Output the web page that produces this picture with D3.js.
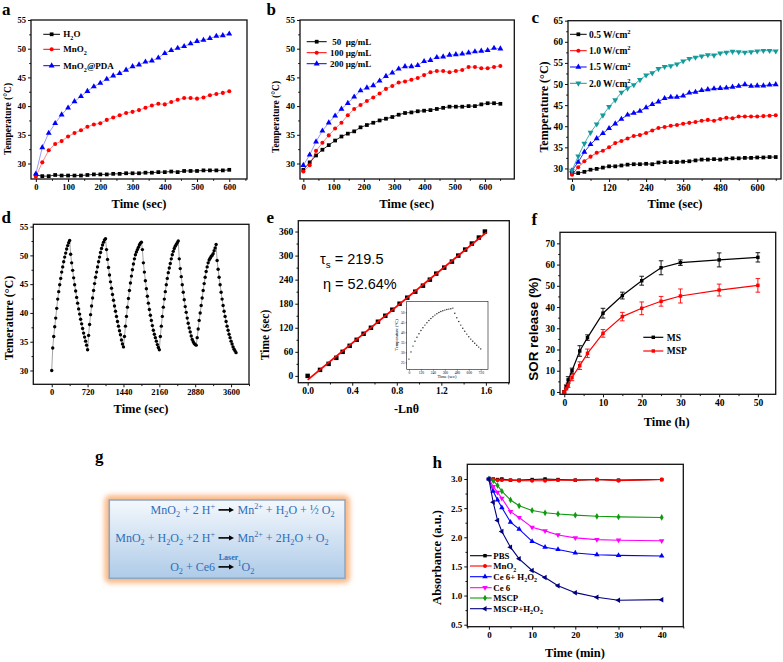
<!DOCTYPE html>
<html>
<head>
<meta charset="utf-8">
<script src="https://cdn.jsdelivr.net/npm/d3@7"></script>
<style>
  body { margin: 0; background: #fff; }
  svg { display: block; }
</style>
</head>
<body>
<div id="chart"></div>
<script>
// ---------- Datos del panel a ----------
const aTime = d3.range(0, 601, 20);
const aH2O = [28.0, 27.8, 27.8, 28.0, 27.9, 27.9, 27.9, 27.9, 28.0, 28.1, 28.1, 28.1, 28.2, 28.2, 28.3, 28.3,
  28.3, 28.4, 28.4, 28.5, 28.5, 28.6, 28.5, 28.7, 28.7, 28.7, 28.8, 28.8, 28.8, 28.8, 28.9];
const aMnO2 = [27.7, 30.2, 32.3, 33.4, 33.9, 34.7, 35.3, 35.8, 36.4, 36.8, 37.0, 37.6, 38.0, 38.4, 38.8, 39.0,
  39.3, 39.7, 40.1, 40.4, 40.3, 40.7, 41.1, 41.4, 41.4, 41.3, 41.5, 41.9, 42.1, 42.3, 42.6];
const aPDA = [28.2, 32.8, 35.3, 37.0, 38.5, 39.7, 40.8, 41.7, 42.6, 43.4, 44.0, 44.7, 45.3, 45.7, 46.3, 46.9,
  47.2, 47.7, 47.9, 48.4, 49.2, 49.7, 50.1, 50.4, 50.9, 51.3, 51.5, 51.8, 52.2, 52.3, 52.6];
const aNames = ["H_{2}O", "MnO_{2}", "MnO_{2}@PDA"];

// ---------- Datos del panel b ----------
const bTime = d3.range(0, 652, 21);
const b50 = [28.9, 30.2, 31.4, 32.4, 33.2, 34.0, 34.7, 35.2, 35.6, 36.3, 36.7, 37.1, 37.5, 37.8, 38.1, 38.5,
  38.8, 38.9, 39.1, 39.2, 39.3, 39.5, 39.7, 39.9, 39.9, 39.9, 40.0, 40.0, 40.3, 40.5, 40.5, 40.4];
const b100 = [28.6, 29.7, 32.2, 33.6, 34.9, 36.1, 37.1, 38.4, 39.5, 40.2, 40.9, 41.5, 42.2, 43.0, 43.5, 44.1,
  44.3, 44.6, 44.9, 45.4, 45.9, 46.1, 46.1, 45.9, 46.1, 46.3, 46.8, 46.8, 46.6, 46.6, 46.8, 47.0];
const b200 = [29.7, 31.5, 33.8, 35.7, 37.1, 38.3, 39.5, 40.5, 41.6, 42.7, 43.2, 43.6, 44.4, 45.2, 45.8, 46.5,
  46.9, 46.9, 47.1, 47.8, 48.0, 48.5, 48.6, 48.9, 49.0, 49.1, 49.3, 49.5, 49.6, 49.7, 50.1, 50.0];
const bNames = ["\u00a050\u00a0\u00a0μg/mL", "100 μg/mL", "200 μg/mL"];

// ---------- Datos del panel c ----------
const cTime = d3.range(0, 661, 20);
const c05 = [28.8, 28.9, 29.2, 29.7, 29.9, 30.2, 30.5, 30.5, 30.7, 30.9, 31.0, 31.0, 31.1, 31.0, 31.4, 31.5, 31.5,
  31.5, 31.6, 31.7, 31.9, 32.1, 32.1, 32.2, 32.1, 32.3, 32.4, 32.4, 32.5, 32.5, 32.6, 32.6, 32.7, 32.7];
const c10 = [28.5, 30.3, 31.7, 32.8, 33.7, 34.2, 35.0, 36.0, 36.5, 37.1, 37.7, 37.9, 38.4, 39.0, 39.6, 39.8, 40.1,
  40.3, 40.6, 40.8, 41.0, 41.3, 41.5, 41.3, 41.7, 42.0, 41.9, 42.3, 42.3, 42.3, 42.3, 42.4, 42.5, 42.6];
const c15 = [29.5, 31.5, 33.9, 35.7, 37.1, 38.3, 39.5, 40.6, 41.7, 42.7, 43.1, 43.6, 44.4, 45.2, 45.8, 46.6, 46.9,
  46.9, 47.2, 47.9, 48.1, 48.5, 48.7, 48.9, 49.0, 49.1, 49.3, 49.5, 49.9, 49.5, 49.6, 49.6, 49.8, 49.9];
const c20 = [29.5, 32.9, 35.9, 38.5, 40.5, 42.6, 44.6, 46.2, 48.0, 49.0, 49.8, 51.0, 52.1, 52.6, 53.6, 54.1, 54.3,
  54.7, 55.4, 56.0, 56.3, 56.6, 56.9, 56.8, 57.3, 57.5, 57.7, 57.6, 57.5, 57.6, 57.8, 57.9, 57.9, 57.8];
const cNames = ["0.5 W/cm^{2}", "1.0 W/cm^{2}", "1.5 W/cm^{2}", "2.0 W/cm^{2}"];

// ---------- Datos del panel d (ciclos on/off, una medida cada 20 s) ----------
const dStep = 20;
const dTemp = [
  30.0, 33.9, 35.9, 37.6, 39.1, 40.8, 42.4, 43.7, 44.9, 46.0, 47.1, 48.0, 48.9, 49.7, 50.4, 51.1, 51.7, 52.2, 52.6,
  50.2, 48.7, 47.4, 46.1, 44.9, 43.8, 42.7, 41.7, 40.7, 39.8, 38.9, 38.1, 37.3, 36.5, 35.8, 35.1, 34.4, 33.6,
  36.1, 38.0, 39.7, 41.2, 42.6, 43.9, 45.1, 46.2, 47.1, 48.0, 48.9, 49.7, 50.5, 51.2, 51.8, 52.3, 52.7, 52.9,
  51.0, 49.3, 47.9, 46.6, 45.4, 44.3, 43.2, 42.2, 41.2, 40.3, 39.4, 38.5, 37.7, 36.9, 36.2, 35.3, 34.6, 34.1,
  35.9, 37.7, 39.4, 41.0, 42.5, 43.9, 45.2, 46.4, 47.5, 48.5, 49.4, 50.1, 50.6, 51.0, 51.4, 51.8, 52.1, 52.3,
  51.0, 48.7, 47.1, 45.6, 44.2, 42.9, 41.7, 40.6, 39.6, 38.7, 37.8, 37.0, 36.3, 35.7, 35.1, 34.5, 34.0, 33.6,
  35.9, 37.7, 39.4, 41.0, 42.4, 43.7, 44.9, 46.0, 47.0, 47.8, 48.6, 49.4, 50.1, 50.7, 51.2, 51.6, 51.9, 52.2, 52.5,
  49.4, 47.7, 46.3, 44.9, 43.6, 42.3, 41.1, 40.1, 39.1, 38.2, 37.4, 36.7, 36.0, 35.4, 35.0, 34.7, 34.5, 34.4,
  35.7, 37.2, 38.7, 40.0, 41.3, 42.6, 43.9, 45.1, 46.2, 47.2, 48.0, 48.7, 49.2, 49.5, 49.8, 50.0, 50.3, 50.8, 51.3, 51.9,
  49.1, 47.6, 46.2, 44.9, 43.6, 42.4, 41.3, 40.3, 39.4, 38.5, 37.7, 37.0, 36.3, 35.7, 35.1, 34.6, 34.1, 33.7, 33.4, 33.1
];
const dTime = dTemp.map((_, i) => i * dStep);

// ---------- Datos del panel e ----------
const eLnTheta = [0, 0.111, 0.188, 0.257, 0.314, 0.377, 0.44, 0.502, 0.568, 0.631, 0.697, 0.76, 0.825,
  0.894, 0.966, 1.035, 1.097, 1.154, 1.226, 1.295, 1.352, 1.414, 1.474, 1.537, 1.591];
const eTime = d3.range(0, 361, 15);
const eFitX = [0, 1.605];
const eFitY = [-10, 358];
const eInsetTime = d3.range(0, 721, 20);
const eInsetTemp = [26.6, 30.2, 33.1, 35.5, 37.5, 39.3, 40.9, 42.3, 43.6, 44.8, 45.9, 46.9, 47.8, 48.6, 49.3, 49.9,
  50.4, 50.8, 51.1, 51.4, 51.6, 51.8, 52.1, 49.5, 47.3, 45.4, 43.6, 42.0, 40.5, 39.1, 37.8, 36.6, 35.5, 34.5,
  33.5, 32.6, 31.7];

// ---------- Datos del panel f ----------
const fTime = [0, 0.5, 1, 2, 4, 6, 10, 15, 20, 25, 30, 40, 50];
const fMS = [0, 2.5, 5.7, 10.0, 19.3, 25.6, 37.1, 45.4, 52.4, 58.5, 60.9, 62.2, 63.4];
const fMSerr = [0.5, 0.8, 1.5, 1.2, 2.5, 1.3, 2.3, 1.6, 2.1, 3.3, 1.3, 3.3, 2.2];
const fMSP = [0, 1.6, 3.1, 6.8, 12.4, 18.2, 27.6, 35.5, 39.4, 42.7, 45.2, 48.0, 50.2];
const fMSPerr = [0.5, 0.6, 1.0, 1.5, 1.8, 2.0, 1.8, 2.0, 3.0, 2.3, 3.3, 2.8, 3.2];
const fNames = ["MS", "MSP"];

// ---------- Datos del panel g ----------
const gEqLeft = ["MnO_{2} + 2 H^{+}", "MnO_{2} + H_{2}O_{2} +2 H^{+}", "O_{2} + Ce6"];
const gEqRight = ["Mn^{2+} + H_{2}O + ½ O_{2}", "Mn^{2+} + 2H_{2}O + O_{2}", "^{1}O_{2}"];
const gArrowNote = ["", "", "Laser"];

// ---------- Datos del panel h ----------
const hTime = [0, 1, 2, 3, 5, 7, 10, 13, 16, 20, 25, 30, 40];
const hPBS = [3.0, 3.0, 2.99, 3.0, 2.98, 2.98, 2.99, 3.0, 2.99, 2.98, 2.99, 2.98, 2.99];
const hMnO2 = [3.0, 2.99, 2.98, 2.98, 2.98, 2.97, 2.97, 2.97, 2.98, 2.98, 2.99, 2.97, 2.99];
const hCeH2O2 = [3.0, 2.79, 2.64, 2.51, 2.26, 2.14, 1.93, 1.83, 1.79, 1.73, 1.70, 1.69, 1.68];
const hCe6 = [3.0, 2.87, 2.77, 2.67, 2.44, 2.34, 2.17, 2.11, 2.04, 1.99, 1.96, 1.95, 1.94];
const hMSCP = [3.0, 2.97, 2.89, 2.79, 2.64, 2.54, 2.46, 2.42, 2.40, 2.38, 2.36, 2.35, 2.34];
const hMSCPH2O2 = [3.0, 2.6, 2.29, 2.1, 1.83, 1.63, 1.43, 1.31, 1.17, 1.05, 0.97, 0.92, 0.93];
const hNames = ["PBS", "MnO_{2}", "Ce 6+ H_{2}O_{2}", "Ce 6", "MSCP", "MSCP+H_{2}O_{2}"];

// ---------- Configuración general ----------
const SERIF = "'Liberation Serif', 'Times New Roman', serif";
const SANS = "'Liberation Sans', Arial, sans-serif";

const svg = d3.select("#chart").append("svg")
  .attr("width", 783)
  .attr("height", 662)
  .style("background", "#fff");

const defs = svg.append("defs");

// Texto con subíndices "_{..}" y superíndices "^{..}"
function richText(sel, str, fs) {
  const parts = str.split(/([_^]\{[^}]*\})/).filter(p => p !== "");
  let shift = 0;
  parts.forEach(p => {
    let target = 0, txt = p, small = false;
    if (p[0] === "_") { target = fs * 0.3; txt = p.slice(2, -1); small = true; }
    else if (p[0] === "^") { target = -fs * 0.4; txt = p.slice(2, -1); small = true; }
    const t = sel.append("tspan").text(txt);
    if (target - shift !== 0) t.attr("dy", target - shift);
    if (small) t.attr("font-size", fs * 0.68);
    shift = target;
  });
  return sel;
}

// Crea un panel con marco, ticks y escalas
function makePanel(p) {
  const [x0, y0, x1, y1] = p.box;
  const x = d3.scaleLinear().domain(p.xDomain).range([x0, x1]);
  const y = d3.scaleLinear().domain(p.yDomain).range([y1, y0]);
  const g = svg.append("g");
  if (p.background) {
    g.append("rect").attr("x", x0).attr("y", y0).attr("width", x1 - x0).attr("height", y1 - y0)
      .attr("fill", p.background);
  }
  const tl = p.tickLen ?? 3;
  const pad = p.pad ?? 2;
  const axes = [];
  axes.push(g.append("g").attr("transform", `translate(0,${y1})`)
    .call(d3.axisBottom(x).tickValues(p.xTicks).tickSize(tl).tickPadding(pad).tickFormat(p.xFormat || d3.format("d"))));
  axes.push(g.append("g").attr("transform", `translate(0,${y1})`)
    .call(d3.axisBottom(x).tickValues(p.xMinor || []).tickSize(tl * 0.6).tickFormat("")));
  axes.push(g.append("g").attr("transform", `translate(${x0},0)`)
    .call(d3.axisLeft(y).tickValues(p.yTicks).tickSize(tl).tickPadding(pad).tickFormat(p.yFormat || d3.format("d"))));
  axes.push(g.append("g").attr("transform", `translate(${x0},0)`)
    .call(d3.axisLeft(y).tickValues(p.yMinor || []).tickSize(tl * 0.6).tickFormat("")));
  axes.forEach(a => {
    a.select(".domain").remove();
    a.selectAll("line").attr("stroke", "#111").attr("stroke-width", p.tickW ?? 1);
    a.attr("font-family", p.tickFamily || SERIF)
      .attr("font-size", p.tickFont ?? 9)
      .attr("font-weight", "bold");
    a.selectAll("text").attr("fill", "#000");
  });
  g.append("rect").attr("x", x0).attr("y", y0).attr("width", x1 - x0).attr("height", y1 - y0)
    .attr("fill", "none").attr("stroke", "#111").attr("stroke-width", p.frameW ?? 1.3);
  return { g, x, y };
}

// Marcadores con d3.symbol
function drawMarkers(g, pts, s) {
  const sym = d3.symbol().type(s.shape).size(s.size);
  g.selectAll(null).data(pts).enter().append("path")
    .attr("d", sym)
    .attr("transform", d => `translate(${d[0]},${d[1]}) rotate(${s.rotate || 0})`)
    .attr("fill", s.color);
}

// Serie: línea + marcadores
function drawSeries(panel, xs, ys, s) {
  const pts = xs.map((v, i) => [panel.x(v), panel.y(ys[i])]);
  panel.g.append("path")
    .attr("d", d3.line()(pts))
    .attr("fill", "none")
    .attr("stroke", s.lineColor || s.color)
    .attr("stroke-width", s.lineWidth ?? 0.8)
    .attr("stroke-opacity", s.lineOpacity ?? 1);
  if (s.shape) drawMarkers(panel.g, pts, s);
}

// Barras de error
function drawErrorBars(panel, xs, ys, es, color) {
  xs.forEach((v, i) => {
    const cx = panel.x(v), top = panel.y(ys[i] + es[i]), bot = panel.y(ys[i] - es[i]);
    panel.g.append("path")
      .attr("d", `M${cx},${top}V${bot}M${cx - 2.3},${top}H${cx + 2.3}M${cx - 2.3},${bot}H${cx + 2.3}`)
      .attr("stroke", color).attr("stroke-width", 0.9).attr("fill", "none");
  });
}

// Leyenda: línea, marcador y texto
function drawLegend(g, names, styles, o) {
  names.forEach((name, i) => {
    const yy = o.ys[i];
    const s = styles[i];
    g.append("line").attr("x1", o.lx0).attr("x2", o.lx1).attr("y1", yy).attr("y2", yy)
      .attr("stroke", s.lineColor || s.color).attr("stroke-width", o.lw ?? 1);
    drawMarkers(g, [[o.mx ?? (o.lx0 + o.lx1) / 2, yy]], s);
    const t = g.append("text")
      .attr("x", o.tx).attr("y", yy + o.fs * 0.35)
      .attr("font-family", SERIF).attr("font-weight", "bold").attr("font-size", o.fs)
      .style("white-space", "pre");
    richText(t, name, o.fs);
  });
}

// Título de eje
function axisTitle(txt, cx, cy, fs, rotate, family) {
  const t = svg.append("text")
    .attr("text-anchor", "middle")
    .attr("font-family", family || SERIF)
    .attr("font-weight", "bold")
    .attr("font-size", fs)
    .attr("fill", "#000");
  if (rotate) {
    t.attr("transform", `translate(${cx},${cy}) rotate(-90)`).attr("x", 0).attr("y", fs * 0.35);
  } else {
    t.attr("x", cx).attr("y", cy);
  }
  richText(t, txt, fs);
  return t;
}

// Letra del panel
function panelLetter(l, x, y) {
  svg.append("text").attr("x", x).attr("y", y)
    .attr("font-family", SERIF).attr("font-weight", "bold").attr("font-size", 17)
    .text(l);
}

const SQ = d3.symbolSquare, CI = d3.symbolCircle, TR = d3.symbolTriangle, DI = d3.symbolDiamond;

// ================= Panel a =================
const pa = makePanel({
  box: [31, 20, 247, 179], xDomain: [-15, 655], yDomain: [27.3, 55],
  xTicks: d3.range(0, 601, 100), xMinor: d3.range(50, 651, 100),
  yTicks: d3.range(30, 56, 5), yMinor: d3.range(32.5, 55, 5), tickFont: 8.5
});
const aStyles = [
  { color: "#000", shape: SQ, size: 14 },
  { color: "#ff0000", shape: CI, size: 13, lineOpacity: 0.6 },
  { color: "#0000ff", shape: TR, size: 15, lineOpacity: 0.5 }
];
[aH2O, aMnO2, aPDA].forEach((ys, i) => drawSeries(pa, aTime, ys, aStyles[i]));
drawLegend(pa.g, aNames, aStyles, { ys: [34.3, 49.3, 65.7], lx0: 43.3, lx1: 60, tx: 63.3, fs: 9 });
panelLetter("a", 2, 15);
axisTitle("Time (sec)", 139, 207.5, 12.5);
axisTitle("Temperature (°C)", 8, 119, 9.5, true);

// ================= Panel b =================
const pb = makePanel({
  box: [300, 20, 514.3, 179], xDomain: [-11, 697], yDomain: [27.3, 55],
  xTicks: d3.range(0, 601, 100), xMinor: d3.range(50, 651, 100),
  yTicks: d3.range(30, 56, 5), yMinor: d3.range(32.5, 55, 5), tickFont: 9
});
const bStyles = [
  { color: "#000", shape: SQ, size: 14 },
  { color: "#ff0000", shape: CI, size: 13, lineOpacity: 0.6 },
  { color: "#0000ff", shape: TR, size: 15, lineOpacity: 0.5 }
];
[b50, b100, b200].forEach((ys, i) => drawSeries(pb, bTime, ys, bStyles[i]));
drawLegend(pb.g, bNames, bStyles, { ys: [41.7, 52.7, 63.7], lx0: 306.7, lx1: 326.7, tx: 330, fs: 9 });
panelLetter("b", 266.5, 15);
axisTitle("Time (sec)", 406.7, 207.5, 12.5);
axisTitle("Temperature (°C)", 276, 117, 9.5, true);

// ================= Panel c =================
const pc = makePanel({
  box: [568, 20.7, 781, 179], xDomain: [-13, 677], yDomain: [27.5, 65],
  xTicks: d3.range(0, 601, 120), xMinor: d3.range(60, 661, 120),
  yTicks: d3.range(30, 66, 5), yMinor: d3.range(32.5, 65, 5), tickFont: 9.5
});
const cStyles = [
  { color: "#000", shape: SQ, size: 14 },
  { color: "#ff0000", shape: CI, size: 13 },
  { color: "#0000ff", shape: TR, size: 15 },
  { color: "#139a9a", shape: TR, size: 15, rotate: 180 }
];
[c05, c10, c15, c20].forEach((ys, i) => drawSeries(pc, cTime, ys, cStyles[i]));
drawLegend(pc.g, cNames, cStyles, { ys: [34.3, 50.7, 67, 83.3], lx0: 570, lx1: 586.7, tx: 589, fs: 9.5 });
panelLetter("c", 531.5, 22.5);
axisTitle("Time (sec)", 675, 208, 12.5);
axisTitle("Temperature (°C)", 543.3, 107, 12, true);

// ================= Panel d =================
const pd = makePanel({
  box: [33.3, 224.3, 249, 384.3], xDomain: [-370, 3960], yDomain: [27.6, 55.4],
  xTicks: d3.range(0, 3601, 720), xMinor: d3.range(360, 3961, 720),
  yTicks: d3.range(30, 56, 5), yMinor: d3.range(32.5, 55, 5), tickFont: 8.5
});
drawSeries(pd, dTime, dTemp, { color: "#000", shape: CI, size: 9, lineColor: "#666", lineWidth: 0.6 });
panelLetter("d", 1.5, 223);
axisTitle("Time (sec)", 141, 413, 12.5);
axisTitle("Temerature (°C)", 8.3, 318, 12, true);

// ================= Panel e =================
const pe = makePanel({
  box: [298.3, 220.7, 509.3, 382.7], xDomain: [-0.084, 1.81], yDomain: [-17, 387],
  xTicks: d3.range(0, 1.61, 0.4), xMinor: d3.range(0.2, 1.81, 0.4), xFormat: d3.format(".1f"),
  yTicks: d3.range(0, 361, 60), yMinor: d3.range(30, 387, 60), tickFont: 9.5
});
drawMarkers(pe.g, eLnTheta.map((v, i) => [pe.x(v), pe.y(eTime[i])]), { color: "#000", shape: SQ, size: 20 });
pe.g.append("path")
  .attr("d", d3.line()(eFitX.map((v, i) => [pe.x(v), pe.y(eFitY[i])])))
  .attr("stroke", "#ff0000").attr("stroke-width", 1.8).attr("fill", "none");
pe.g.append("text").attr("x", 320).attr("y", 263.5)
  .attr("font-family", SANS).attr("font-size", 14.5)
  .call(t => richText(t, "τ_{s} = 219.5", 14.5));
pe.g.append("text").attr("x", 323).attr("y", 289)
  .attr("font-family", SANS).attr("font-size", 14.5)
  .text("η = 52.64%");

// Gráfico insertado
const pi = makePanel({
  box: [406.7, 301.5, 488, 369.5], xDomain: [-23, 793], yDomain: [21.4, 55.4],
  xTicks: d3.range(0, 721, 120), yTicks: d3.range(25, 51, 5),
  tickFont: 3.6, tickLen: 1.2, pad: 1, tickW: 0.5, frameW: 0.6, background: "#fff"
});
pi.g.selectAll("text").attr("font-weight", "normal");
drawMarkers(pi.g, eInsetTime.map((v, i) => [pi.x(v), pi.y(eInsetTemp[i])]), { color: "#222", shape: CI, size: 1.6 });
svg.append("text").attr("x", 447).attr("y", 378).attr("text-anchor", "middle")
  .attr("font-family", SERIF).attr("font-size", 4.5).text("Time (sec)");
svg.append("text").attr("transform", "translate(396,335) rotate(-90)").attr("text-anchor", "middle")
  .attr("y", 1.5).attr("font-family", SERIF).attr("font-size", 4.5).text("Temperature (°C)");

panelLetter("e", 266.5, 223);
axisTitle("-Lnθ", 406.5, 413, 12);
axisTitle("Time (sec)", 265, 335, 11.5, true);

// ================= Panel f =================
const pf = makePanel({
  box: [560, 232.3, 775.7, 394.3], xDomain: [-1.1, 54.6], yDomain: [-1.1, 75.2],
  xTicks: d3.range(0, 51, 10), xMinor: d3.range(5, 55, 10),
  yTicks: d3.range(0, 71, 10), yMinor: d3.range(5, 75, 10), tickFont: 9.5
});
const fStyles = [
  { color: "#000", shape: SQ, size: 12 },
  { color: "#ff0000", shape: SQ, size: 12 }
];
drawErrorBars(pf, fTime, fMS, fMSerr, "#000");
drawErrorBars(pf, fTime, fMSP, fMSPerr, "#ff0000");
drawSeries(pf, fTime, fMS, { ...fStyles[0], lineWidth: 1.2 });
drawSeries(pf, fTime, fMSP, { ...fStyles[1], lineWidth: 1.2 });
drawLegend(pf.g, fNames, fStyles, { ys: [337.3, 351], lx0: 643.3, lx1: 663.3, tx: 666.7, fs: 9.5, lw: 1.2 });
panelLetter("f", 531.5, 225);
axisTitle("Time (h)", 666.7, 426, 12.5);
axisTitle("SOR release (%)", 533, 329, 13.4, true, SANS);

// ================= Panel g =================
const glow = defs.append("filter").attr("id", "glow")
  .attr("x", "-10%").attr("y", "-20%").attr("width", "120%").attr("height", "140%");
glow.append("feGaussianBlur").attr("stdDeviation", 2.5);
const grad = defs.append("linearGradient").attr("id", "boxGrad")
  .attr("x1", 0).attr("y1", 0).attr("x2", 0).attr("y2", 1);
grad.append("stop").attr("offset", "0%").attr("stop-color", "#f4f8fd");
grad.append("stop").attr("offset", "100%").attr("stop-color", "#aecbe8");

const gBox = [109.3, 500, 345, 578.3];
svg.append("rect")
  .attr("x", gBox[0] - 5).attr("y", gBox[1] - 5)
  .attr("width", gBox[2] - gBox[0] + 10).attr("height", gBox[3] - gBox[1] + 10)
  .attr("rx", 6).attr("fill", "#f9b27c").attr("opacity", 0.9)
  .attr("filter", "url(#glow)");
svg.append("rect")
  .attr("x", gBox[0]).attr("y", gBox[1])
  .attr("width", gBox[2] - gBox[0]).attr("height", gBox[3] - gBox[1])
  .attr("fill", "url(#boxGrad)").attr("stroke", "#8fa6bf").attr("stroke-width", 1.5);

const gBaselines = [513.5, 541.5, 570.5];
gEqLeft.forEach((eq, i) => {
  const by = gBaselines[i];
  const lt = svg.append("text").attr("x", 215).attr("y", by).attr("text-anchor", "end")
    .attr("font-family", SERIF).attr("font-size", 12).attr("fill", "#2f6fb8");
  richText(lt, eq, 12);
  const rt = svg.append("text").attr("x", 237.5).attr("y", by)
    .attr("font-family", SERIF).attr("font-size", 12).attr("fill", "#2f6fb8");
  richText(rt, gEqRight[i], 12);
  // flecha
  const ay = by - 3.6;
  svg.append("line").attr("x1", 218.5).attr("x2", 230).attr("y1", ay).attr("y2", ay)
    .attr("stroke", "#000").attr("stroke-width", 1.6);
  svg.append("path").attr("d", `M229,${ay - 2.6}L234,${ay}L229,${ay + 2.6}Z`).attr("fill", "#000");
  if (gArrowNote[i]) {
    svg.append("text").attr("x", 228.5).attr("y", by - 10.5).attr("text-anchor", "middle")
      .attr("font-family", SERIF).attr("font-weight", "bold").attr("font-size", 8)
      .attr("fill", "#2f6fb8").text(gArrowNote[i]);
  }
});
panelLetter("g", 95, 462);

// ================= Panel h =================
const ph = makePanel({
  box: [467.3, 464.3, 683.3, 626.7], xDomain: [-5, 45], yDomain: [0.466, 3.252],
  xTicks: d3.range(0, 41, 10), xMinor: d3.range(-5, 46, 10),
  yTicks: d3.range(0.5, 3.01, 0.5), yMinor: d3.range(0.75, 3.2, 0.5), yFormat: d3.format(".1f"), tickFont: 9
});
const hStyles = [
  { color: "#000", shape: SQ, size: 12 },
  { color: "#ff0000", shape: CI, size: 12 },
  { color: "#0000ff", shape: TR, size: 13 },
  { color: "#ff00ff", shape: TR, size: 13, rotate: 180 },
  { color: "#109a10", shape: DI, size: 13 },
  { color: "#000080", shape: TR, size: 13, rotate: -90 }
];
[hPBS, hMnO2, hCeH2O2, hCe6, hMSCP, hMSCPH2O2].forEach((ys, i) =>
  drawSeries(ph, hTime, ys, { ...hStyles[i], lineWidth: 1.1 }));
drawLegend(ph.g, hNames, hStyles, {
  ys: [555.7, 566, 576.7, 587.7, 598, 608.7], lx0: 470, lx1: 491.7, mx: 485, tx: 493.3, fs: 8.8, lw: 1.1
});
panelLetter("h", 432.5, 468);
axisTitle("Time (min)", 575, 657, 12.5);
axisTitle("Absorbance (a.u.)", 436.7, 557.5, 12.5, true);
</script>
</body>
</html>
